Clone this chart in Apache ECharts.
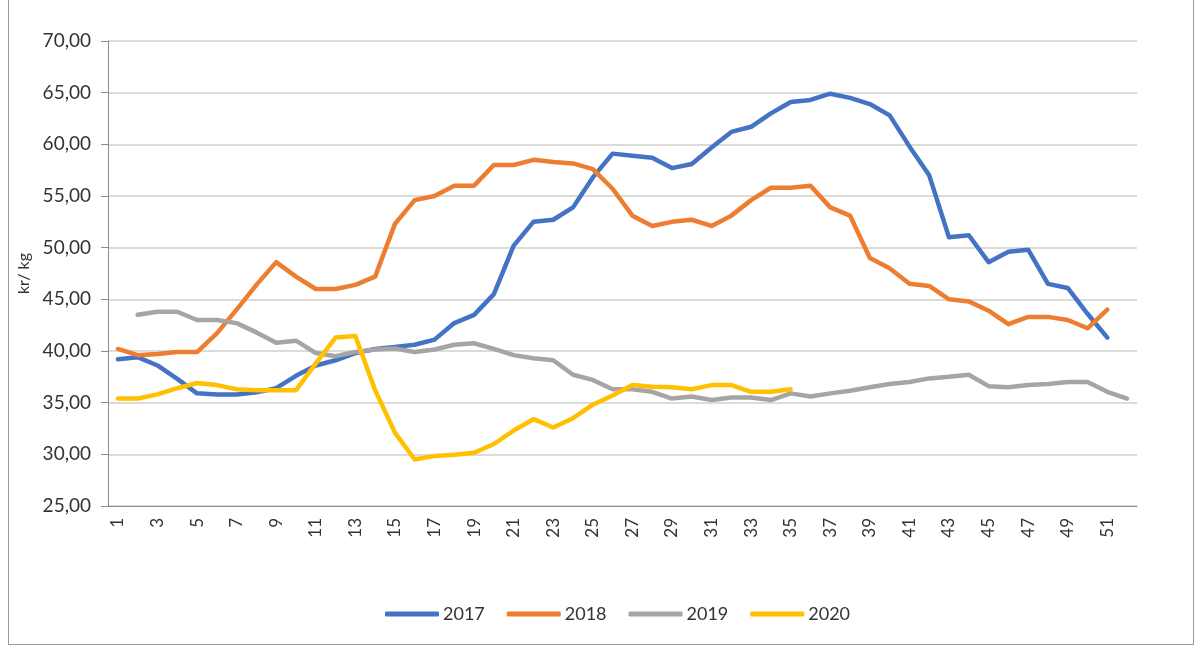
<!DOCTYPE html>
<html>
<head>
<meta charset="utf-8">
<script src="https://cdn.jsdelivr.net/npm/echarts@6/dist/echarts.min.js"></script>
<style>
    html, body { margin: 0; padding: 0; background: #fff; }
    #frame {
        position: absolute; left: 8px; top: -2px; width: 1184px; height: 646px;
        border-left: 1px solid #9a9a9a; border-right: 1px solid #9a9a9a; border-bottom: 1px solid #9a9a9a;
    }
    #chart { position: absolute; left: 0; top: 0; width: 1199px; height: 648px; }
</style>
</head>
<body>
<div id="frame"></div>
<div id="chart"></div>
<script>
// 周数（横轴类目）
const weeks = ['1','2','3','4','5','6','7','8','9','10','11','12','13','14','15','16','17','18','19','20',
    '21','22','23','24','25','26','27','28','29','30','31','32','33','34','35','36','37','38','39','40',
    '41','42','43','44','45','46','47','48','49','50','51','52'];

// 各年份价格 (kr/kg)
const y2017 = [39.2, 39.4, 38.6, 37.3, 35.9, 35.8, 35.8, 36.0, 36.4, 37.6,
    38.6, 39.1, 39.8, 40.2, 40.4, 40.6, 41.1, 42.7, 43.5, 45.5,
    50.2, 52.5, 52.7, 53.9, 56.8, 59.1, 58.9, 58.7, 57.7, 58.1,
    59.7, 61.2, 61.7, 63.0, 64.1, 64.3, 64.9, 64.5, 63.9, 62.8,
    59.8, 57.0, 51.0, 51.2, 48.6, 49.6, 49.8, 46.5, 46.1, 43.6,
    41.3];
const y2018 = [40.2, 39.6, 39.7, 39.9, 39.9, 41.7, 44.0, 46.4, 48.6, 47.2,
    46.0, 46.0, 46.4, 47.2, 52.3, 54.6, 55.0, 56.0, 56.0, 58.0,
    58.0, 58.5, 58.3, 58.15, 57.6, 55.7, 53.1, 52.1, 52.5, 52.7,
    52.1, 53.1, 54.6, 55.8, 55.8, 56.0, 53.9, 53.1, 49.0, 48.0,
    46.5, 46.3, 45.0, 44.8, 43.9, 42.6, 43.3, 43.3, 43.0, 42.2,
    44.0];
const y2019 = [null, 43.5, 43.8, 43.8, 43.0, 43.0, 42.7, 41.8, 40.8, 41.0,
    39.8, 39.5, 39.9, 40.15, 40.25, 39.9, 40.15, 40.6, 40.75, 40.2,
    39.6, 39.3, 39.1, 37.7, 37.2, 36.3, 36.3, 36.05, 35.4, 35.6,
    35.25, 35.5, 35.5, 35.25, 35.9, 35.6, 35.9, 36.15, 36.5, 36.8,
    37.0, 37.35, 37.5, 37.7, 36.6, 36.5, 36.7, 36.8, 37.0, 37.0,
    36.05, 35.4];
const y2020 = [35.4, 35.4, 35.8, 36.4, 36.9, 36.7, 36.3, 36.2, 36.2, 36.2,
    38.8, 41.3, 41.45, 36.2, 32.1, 29.5, 29.85, 29.95, 30.15, 31.0,
    32.3, 33.4, 32.6, 33.5, 34.8, 35.7, 36.7, 36.55, 36.5, 36.3,
    36.7, 36.7, 36.05, 36.05, 36.3];

const seriesNames = ['2017', '2018', '2019', '2020'];
const seriesColors = ['#4472C4', '#ED7D31', '#A5A5A5', '#FFC000'];
const seriesData = [y2017, y2018, y2019, y2020];

const FONT = 'Lato, "Open Sans", sans-serif';
const TEXT_COLOR = '#333333';

const myChart = echarts.init(document.getElementById('chart'));

const option = {
    animation: false,
    textStyle: { fontFamily: FONT },
    grid: { left: 108, right: 62, top: 41, bottom: 142 },
    legend: {
        bottom: 20,
        left: 380,
        itemWidth: 54,
        itemHeight: 5,
        itemGap: 22,
        icon: 'roundRect',
        textStyle: { fontSize: 18, color: TEXT_COLOR, fontFamily: FONT, padding: [0, 0, 0, -1] },
        data: seriesNames
    },
    xAxis: {
        type: 'category',
        data: weeks,
        boundaryGap: true,
        axisLine: { lineStyle: { color: '#8c8c8c', width: 1 } },
        axisTick: { show: false },
        axisLabel: {
            interval: 1,
            rotate: 90,
            margin: 12,
            fontSize: 17,
            color: TEXT_COLOR,
            fontFamily: FONT
        },
        splitLine: { show: false }
    },
    yAxis: {
        type: 'value',
        min: 25,
        max: 70,
        interval: 5,
        name: 'kr/ kg',
        nameLocation: 'middle',
        nameRotate: 90,
        nameGap: 76,
        nameTextStyle: { fontSize: 16, color: TEXT_COLOR, fontFamily: FONT },
        axisLine: { show: true, lineStyle: { color: '#8c8c8c', width: 1 } },
        axisTick: { show: true, length: 7, lineStyle: { color: '#8c8c8c' } },
        axisLabel: {
            margin: 17,
            fontSize: 19,
            color: TEXT_COLOR,
            fontFamily: FONT,
            formatter: v => v.toFixed(2).replace('.', ',')
        },
        splitLine: { lineStyle: { color: '#d0d0ca', width: 1.5 } }
    },
    series: seriesNames.map((name, i) => ({
        name: name,
        type: 'line',
        data: seriesData[i],
        color: seriesColors[i],
        showSymbol: false,
        symbol: 'none',
        smooth: false,
        lineStyle: { width: 4.5, color: seriesColors[i], join: 'round', cap: 'round' }
    }))
};

myChart.setOption(option);
</script>
</body>
</html>
